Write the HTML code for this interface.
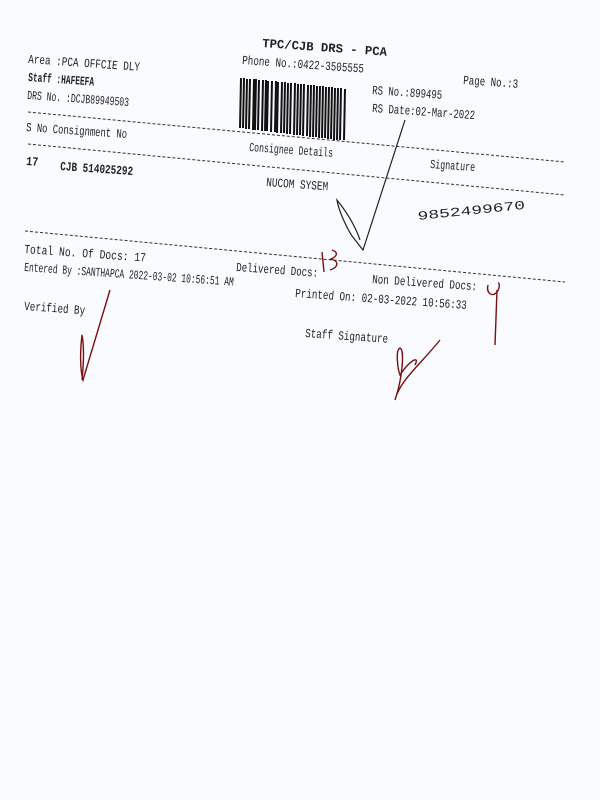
<!DOCTYPE html>
<html><head><style>
html,body{margin:0;padding:0;background:#fafbff;}
svg{display:block}
text{font-family:"Liberation Mono",monospace;fill:#222;font-size:12.5px;}
</style></head><body>
<svg width="600" height="800" viewBox="0 0 600 800">
<rect width="600" height="800" fill="#fafbff"/>
<g>
<text x="262" y="47" transform="rotate(4 262 47)" font-weight="bold" font-size="13" textLength="125" lengthAdjust="spacingAndGlyphs">TPC/CJB  DRS - PCA</text>
<text x="242" y="64" transform="rotate(4 242 64)" textLength="122" lengthAdjust="spacingAndGlyphs">Phone No.:0422-3505555</text>
<text x="28" y="63" transform="rotate(4 28 63)" textLength="112" lengthAdjust="spacingAndGlyphs">Area :PCA OFFCIE DLY</text>
<text x="28" y="81" transform="rotate(4 28 81)" font-weight="bold" textLength="66" lengthAdjust="spacingAndGlyphs">Staff :HAFEEFA</text>
<text x="27" y="99" transform="rotate(4 27 99)" font-size="13" textLength="102" lengthAdjust="spacingAndGlyphs">DRS No. :DCJB89949503</text>
<text x="463" y="84" transform="rotate(4 463 84)" textLength="55" lengthAdjust="spacingAndGlyphs">Page No.:3</text>
<text x="372" y="94" transform="rotate(4 372 94)" textLength="70" lengthAdjust="spacingAndGlyphs">RS No.:899495</text>
<text x="372" y="112" transform="rotate(4 372 112)" textLength="103" lengthAdjust="spacingAndGlyphs">RS Date:02-Mar-2022</text>
<text x="26" y="131" transform="rotate(4 26 131)" font-size="11" textLength="101" lengthAdjust="spacingAndGlyphs">S No  Consignment No</text>
<text x="249" y="151" transform="rotate(4 249 151)" font-size="11" textLength="84" lengthAdjust="spacingAndGlyphs">Consignee Details</text>
<text x="430" y="168" transform="rotate(4 430 168)" font-size="11" textLength="45" lengthAdjust="spacingAndGlyphs">Signature</text>
<text x="26" y="165" transform="rotate(4 26 165)" font-weight="bold" textLength="12" lengthAdjust="spacingAndGlyphs">17</text>
<text x="60" y="170" transform="rotate(4 60 170)" font-weight="bold" textLength="73" lengthAdjust="spacingAndGlyphs">CJB 514025292</text>
<text x="266" y="186" transform="rotate(4 266 186)" font-size="11" textLength="62" lengthAdjust="spacingAndGlyphs">NUCOM SYSEM</text>
<text x="24" y="253" transform="rotate(4 24 253)" textLength="122" lengthAdjust="spacingAndGlyphs">Total No. Of Docs:  17</text>
<text x="24" y="271" transform="rotate(4 24 271)" textLength="210" lengthAdjust="spacingAndGlyphs">Entered By :SANTHAPCA 2022-03-02 10:56:51 AM</text>
<text x="236" y="271" transform="rotate(4 236 271)" textLength="82" lengthAdjust="spacingAndGlyphs">Delivered Docs:</text>
<text x="372" y="283" transform="rotate(4 372 283)" textLength="105" lengthAdjust="spacingAndGlyphs">Non Delivered Docs:</text>
<text x="295" y="297" transform="rotate(4 295 297)" textLength="172" lengthAdjust="spacingAndGlyphs">Printed On: 02-03-2022 10:56:33</text>
<text x="24" y="310" transform="rotate(4 24 310)" textLength="61" lengthAdjust="spacingAndGlyphs">Verified By</text>
<text x="305" y="337" transform="rotate(4 305 337)" textLength="83" lengthAdjust="spacingAndGlyphs">Staff Signature</text>
<text x="418" y="220" transform="rotate(-6 418 220)" font-family="Liberation Serif" font-size="24" textLength="108" lengthAdjust="spacingAndGlyphs" fill="#333">9852499670</text>
</g>
<g stroke="#333" stroke-width="1" stroke-dasharray="3,2" fill="none">
<line x1="28" y1="112" x2="565" y2="162"/>
<line x1="28" y1="144" x2="565" y2="195"/>
<line x1="25" y1="231" x2="565" y2="282"/>
</g>
<g stroke="#111">
<path d="M241 78 L240 128 M244 78 L243 128 M247 79 L246 129 M250 79 L249 129 M254 79 L253 130 M256 79 L255 130 M259 80 L258 130 M263 80 L262 131 M266 80 L265 131 M268 81 L267 131 M272 81 L271 132 M276 81 L275 132 M278 82 L277 133 M282 82 L281 133 M285 82 L284 133 M288 83 L287 134 M291 83 L290 134 M295 83 L294 135 M298 84 L297 135 M301 84 L300 135 M304 84 L303 136 M308 85 L307 136 M311 85 L310 137 M314 85 L313 137 M317 86 L316 137 M320 86 L319 138 M323 86 L322 138 M326 87 L325 138 M329 87 L328 139 M332 87 L331 139 M335 88 L334 140 M338 88 L337 140 M341 88 L340 140 M345 89 L344 140" stroke-width="2"/>
</g>
<g fill="none" stroke="#222" stroke-width="1.2">
<path d="M405 120 L363 250 L352 236 C345 225 338 208 337 200 C345 210 355 225 360 240"/>
</g>
<g fill="none" stroke="#7a1010" stroke-width="1.4">
<path d="M322 252 l2 20 M332 250 c6 2 6 6 -1 9 c8 2 8 8 -1 11"/>
<path d="M488 285 c-2 8 4 12 8 8 c4 -4 4 -10 2 -10 M497 290 l-2 55"/>
<path d="M110 290 L83 380 C80 370 80 350 82 335 C84 345 84 360 82 380"/>
<path d="M440 340 C420 365 400 380 395 400 C402 380 405 350 400 348 C395 350 398 370 400 375 C410 360 420 355 415 365"/>
</g>
</svg>
</body></html>
